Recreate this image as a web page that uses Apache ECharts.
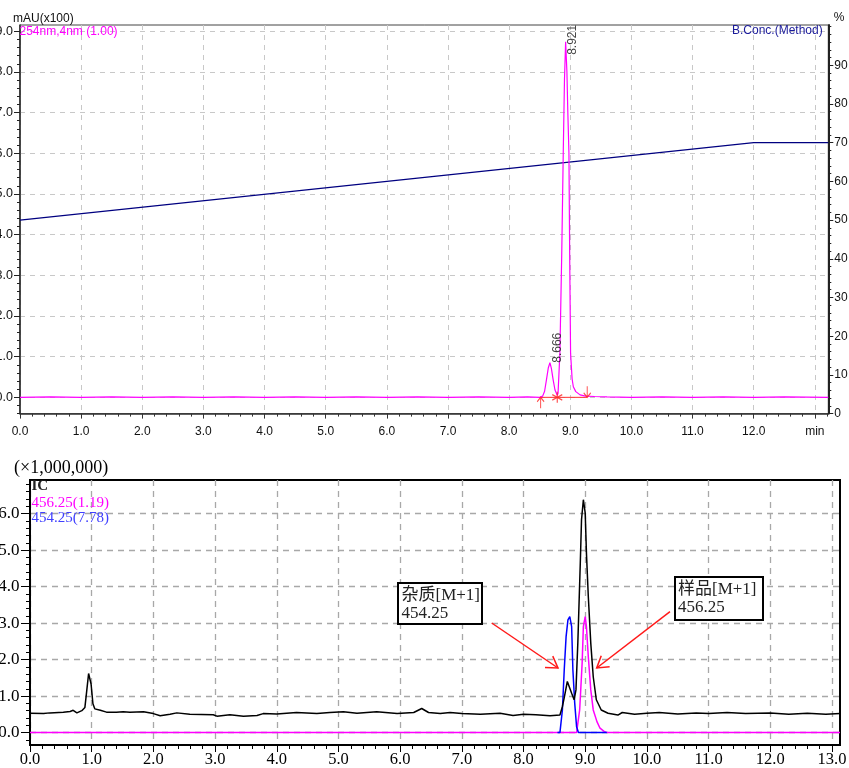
<!DOCTYPE html>
<html><head><meta charset="utf-8">
<script src="https://cdn.jsdelivr.net/npm/echarts@6/dist/echarts.min.js"></script>
<style>html,body{margin:0;padding:0;background:#fff}#c{width:849px;height:768px}</style>
</head><body><div id="c"></div>
<script>
// ---------------- DATA ----------------
// Top: UV 254 nm trace, time (min) vs mAU(x100)
const uvTrace = [
  [0,0.0],[0.5,0.01],[1.0,0.0],[1.5,0.01],[2.0,0.0],[2.5,0.01],[3.0,0.0],[3.5,0.01],[4.0,0.0],
  [4.5,0.01],[5.0,0.0],[5.5,0.01],[6.0,0.0],[6.5,0.01],[7.0,0.0],[7.5,0.01],[8.0,0.0],[8.3,0.01],
  [8.5,0.0],[8.548,0.03],[8.58,0.15],[8.61,0.43],[8.64,0.72],[8.667,0.85],[8.69,0.72],[8.72,0.43],
  [8.75,0.18],[8.787,0.05],[8.80,0.1],[8.83,1.08],[8.86,3.5],[8.885,6.0],[8.905,7.8],[8.924,8.74],
  [8.945,8.0],[8.96,7.0],[8.978,6.0],[8.99,3.5],[9.005,1.08],[9.03,0.45],[9.05,0.26],[9.09,0.14],
  [9.16,0.06],[9.25,0.03],[9.4,0.02],[9.6,0.01],[10.0,0.0],[10.5,0.01],[11.0,0.0],[11.5,0.01],
  [12.0,0.0],[12.5,0.01],[13.22,0.0]
];
// B.Conc.(Method) %, time vs %
const bConc = [[0,50],[12,70],[13.22,70]];
// peak retention times and apex heights
const peakTimes = [8.666, 8.921];
const peakHeights = [0.85, 8.74];
// integration markers: start, split, end (min)
const integStart = [8.515, 0];
const integSplit = [8.787, 0];
const integEnd = [9.277, 0];

// Bottom: TIC and extracted ions (x1,000,000)
const ticTrace = [
  [0,0.53],[0.22,0.52],[0.32,0.54],[0.54,0.56],[0.65,0.58],[0.70,0.61],[0.76,0.54],[0.84,0.60],
  [0.89,0.69],[0.92,1.15],[0.95,1.62],[0.97,1.65],[0.99,1.33],[1.02,0.79],[1.05,0.65],[1.14,0.61],
  [1.24,0.56],[1.40,0.56],[1.51,0.57],[1.62,0.56],[1.84,0.57],[2.00,0.52],[2.11,0.46],[2.27,0.50],
  [2.38,0.54],[2.59,0.50],[2.97,0.49],[3.03,0.45],[3.24,0.49],[3.46,0.45],[3.68,0.47],[3.78,0.52],
  [4.00,0.51],[4.32,0.55],[4.65,0.52],[4.86,0.55],[5.08,0.57],[5.30,0.53],[5.62,0.57],[5.95,0.52],
  [6.22,0.55],[6.35,0.66],[6.46,0.55],[6.65,0.52],[6.81,0.55],[7.00,0.52],[7.30,0.50],[7.62,0.53],
  [7.83,0.47],[8.00,0.50],[8.20,0.49],[8.43,0.46],[8.59,0.48],[8.63,0.71],[8.66,0.96],[8.71,1.40],
  [8.74,1.35],[8.78,1.08],[8.82,0.90],[8.85,1.17],[8.88,2.45],[8.92,4.64],[8.94,5.83],[8.97,6.38],
  [9.00,6.01],[9.02,4.91],[9.05,3.73],[9.09,2.45],[9.13,1.53],[9.18,0.90],[9.26,0.62],[9.37,0.53],
  [9.53,0.48],[9.60,0.55],[9.80,0.50],[10.0,0.53],[10.2,0.55],[10.5,0.51],[10.8,0.54],[11.0,0.52],
  [11.3,0.55],[11.6,0.52],[12.0,0.54],[12.3,0.50],[12.6,0.53],[12.9,0.50],[13.13,0.52]
];
const ion45625 = [
  [0,0],[8.86,0],[8.91,0.62],[8.95,1.9],[8.97,2.9],[9.0,3.18],[9.02,2.9],[9.05,2.08],[9.09,1.17],
  [9.13,0.62],[9.19,0.3],[9.24,0.12],[9.3,0.04],[9.35,0],[13.13,0]
];
const ion45425 = [
  [8.55,0],[8.59,0],[8.63,0.62],[8.66,1.72],[8.69,2.63],[8.72,3.09],[8.75,3.18],[8.78,2.9],
  [8.8,1.72],[8.83,0.8],[8.86,0.16],[8.89,0],[9.35,0]
];

// tick labels
const topXTicks = [0,1,2,3,4,5,6,7,8,9,10,11,12,13];
const topYTicks = [0,1,2,3,4,5,6,7,8,9];
const topRTicks = [0,10,20,30,40,50,60,70,80,90];
const botXTicks = [0,1,2,3,4,5,6,7,8,9,10,11,12,13];
const botYTicks = [0,1,2,3,4,5,6];

function steps(a, b, s) { const r = []; for (let v = a; v <= b + 1e-9; v += s) r.push(Math.round(v * 1000) / 1000); return r; }
const topXMinor = steps(0, 13.2, 0.2);
const topYMinor = steps(-0.4, 9.0, 0.2);
const topRMinor = steps(0, 100, 2);
const botXMinor = steps(0, 13.0, 0.2);
const botYMinor = steps(-0.2, 6.8, 0.2);

// ---------------- STYLE ----------------
const SANS = '"Liberation Sans", Arial, sans-serif';
const SERIF = '"Liberation Serif", "Times New Roman", "Noto Sans CJK SC", serif';
const topGrid = {left: 20, right: 20.7, top: 25, bottom: 354.4};
const botGrid = {left: 30, right: 9, top: 480, bottom: 23};

const chart = echarts.init(document.getElementById('c'), null, {renderer: 'canvas'});

function minorAxis(gi, pos, min, max, vals, len, color) {
  return {gridIndex: gi, type: 'value', position: pos, min, max,
    axisLine: {show: false, onZero: false}, splitLine: {show: false}, axisLabel: {show: false},
    axisTick: {show: true, customValues: vals, length: len, lineStyle: {color, width: 1}}};
}
const fmt1 = v => (+v).toFixed(1);

const upArrow = 'path://M0,0 L0,10 M-3.5,4 L0,0 L3.5,4';
const downArrow = 'path://M0,0 L0,10 M-3.5,6 L0,10 L3.5,6';
const asterisk = 'path://M0,-5 L0,5 M-4.3,-2.5 L4.3,2.5 M-4.3,2.5 L4.3,-2.5';

const option = {
  animation: false,
  backgroundColor: '#fff',
  grid: [
    Object.assign({show: true, borderColor: '#444', borderWidth: 1, backgroundColor: 'transparent', containLabel: false, outerBoundsMode: 'none'}, topGrid),
    Object.assign({show: true, borderColor: '#000', borderWidth: 2, backgroundColor: 'transparent', containLabel: false, outerBoundsMode: 'none'}, botGrid)
  ],
  xAxis: [
    {gridIndex: 0, type: 'value', position: 'bottom', min: 0, max: 13.22, splitNumber: 13,
     axisLine: {onZero: false, lineStyle: {color: '#333', width: 1.5}},
     axisTick: {customValues: topXTicks, length: 5, lineStyle: {color: '#333'}},
     axisLabel: {customValues: topXTicks, formatter: v => (+v === 13 ? 'min' : fmt1(v)), margin: 12,
                 fontFamily: SANS, fontSize: 12, color: '#111'},
     splitLine: {show: true, lineStyle: {type: [5, 5], color: '#c8c8c8', width: 1}}},
    minorAxis(0, 'bottom', 0, 13.22, topXMinor, 3, '#333'),
    {gridIndex: 1, type: 'value', position: 'bottom', min: 0, max: 13.13, splitNumber: 13,
     axisLine: {onZero: false, lineStyle: {color: '#000', width: 2}},
     axisTick: {customValues: botXTicks, length: 7, lineStyle: {color: '#000', width: 1}},
     axisLabel: {customValues: botXTicks, formatter: fmt1, margin: 6, fontFamily: SERIF, fontSize: 16.5, color: '#000'},
     splitLine: {show: true, lineStyle: {type: [6, 5], color: '#a8a8a8', width: 1.3}}},
    minorAxis(1, 'bottom', 0, 13.13, botXMinor, 4, '#000')
  ],
  yAxis: [
    {gridIndex: 0, type: 'value', position: 'left', min: -0.4, max: 9.154, splitNumber: 9,
     axisLine: {show: true, onZero: false, lineStyle: {color: '#222', width: 1.5}},
     axisTick: {show: true, customValues: topYTicks, length: 6, lineStyle: {color: '#222'}},
     axisLabel: {customValues: topYTicks, formatter: fmt1, margin: 7, fontFamily: SANS, fontSize: 12.5, color: '#111'},
     splitLine: {show: true, lineStyle: {type: [5, 5], color: '#c8c8c8', width: 1}}},
    minorAxis(0, 'left', -0.4, 9.154, topYMinor, 3, '#222'),
    {gridIndex: 0, type: 'value', position: 'right', min: 0, max: 100.4, splitNumber: 10,
     axisLine: {show: true, onZero: false, lineStyle: {color: '#222', width: 2}},
     axisTick: {show: true, customValues: topRTicks, length: 5, lineStyle: {color: '#222'}},
     axisLabel: {customValues: topRTicks, margin: 6, fontFamily: SANS, fontSize: 12, color: '#111'},
     splitLine: {show: false}},
    minorAxis(0, 'right', 0, 100.4, topRMinor, 3, '#222'),
    {gridIndex: 1, type: 'value', position: 'left', min: -0.34, max: 6.92, splitNumber: 7,
     axisLine: {show: true, onZero: false, lineStyle: {color: '#000', width: 2}},
     axisTick: {show: true, customValues: botYTicks, length: 9, lineStyle: {color: '#000'}},
     axisLabel: {customValues: botYTicks, formatter: fmt1, margin: 10.5, fontFamily: SERIF, fontSize: 17, color: '#000'},
     splitLine: {show: true, lineStyle: {type: [6, 5], color: '#a8a8a8', width: 1.3}}},
    minorAxis(1, 'left', -0.34, 6.92, botYMinor, 4, '#000')
  ],
  series: [
    {type: 'line', xAxisIndex: 0, yAxisIndex: 2, data: bConc, symbol: 'none',
     lineStyle: {color: '#000080', width: 1.2}, z: 2},
    {type: 'line', xAxisIndex: 0, yAxisIndex: 0, data: [integStart, integEnd], symbol: 'none',
     lineStyle: {color: '#ff3030', width: 1}, z: 3},
    {type: 'line', xAxisIndex: 0, yAxisIndex: 0, data: uvTrace, symbol: 'none',
     lineStyle: {color: '#ff00ff', width: 1.2}, z: 4},
    {type: 'scatter', xAxisIndex: 0, yAxisIndex: 0, z: 5,
     itemStyle: {color: 'transparent', borderColor: '#ff2020', borderWidth: 1.2},
     data: [
       {value: integStart, symbol: upArrow, symbolSize: [7, 11], symbolOffset: [0, 5.5]},
       {value: integSplit, symbol: asterisk, symbolSize: [10, 11], symbolOffset: [0, 0]},
       {value: integEnd, symbol: downArrow, symbolSize: [7, 11], symbolOffset: [0, -5.5]}
     ]},
    {type: 'scatter', xAxisIndex: 0, yAxisIndex: 0, z: 6, symbolSize: 0,
     label: {show: true, rotate: 90, align: 'left', verticalAlign: 'middle',
             fontFamily: SANS, fontSize: 12, color: '#111',
             formatter: p => p.value[0].toFixed(3)},
     data: [
       {value: [peakTimes[0], peakHeights[0]], label: {position: [7.5, 0]}},
       {value: [peakTimes[1], peakHeights[1]], label: {position: [7, 13]}}
     ]},
    {type: 'line', xAxisIndex: 2, yAxisIndex: 4, data: ion45625, symbol: 'none',
     lineStyle: {color: '#ff00ff', width: 1.5}, z: 3},
    {type: 'line', xAxisIndex: 2, yAxisIndex: 4, data: ion45425, symbol: 'none',
     lineStyle: {color: '#0000ff', width: 1.5}, z: 4},
    {type: 'line', xAxisIndex: 2, yAxisIndex: 4, data: ticTrace, symbol: 'none',
     lineStyle: {color: '#000', width: 1.5}, z: 5}
  ]
};

function arrow(x1, y1, x2, y2) {
  const ang = Math.atan2(y2 - y1, x2 - x1), L = 13, a = 32 * Math.PI / 180;
  const p1 = [x2 - L * Math.cos(ang - a), y2 - L * Math.sin(ang - a)];
  const p2 = [x2 - L * Math.cos(ang + a), y2 - L * Math.sin(ang + a)];
  const st = {stroke: '#ff1a1a', lineWidth: 1.5, fill: null};
  return [
    {type: 'polyline', shape: {points: [[x1, y1], [x2, y2]]}, style: st, z: 100},
    {type: 'polyline', shape: {points: [p1, [x2, y2], p2]}, style: st, z: 100}
  ];
}
function txt(x, y, text, font, fill, align) {
  return {type: 'text', x, y, z: 100, style: {text, font, fill, align: align || 'left', verticalAlign: 'middle'}};
}
option.graphic = [
  txt(13, 19, 'mAU(x100)', '12px ' + SANS, '#111'),
  txt(19.5, 31.5, '254nm,4nm (1.00)', '12px ' + SANS, '#ff00ff'),
  txt(822.7, 31, 'B.Conc.(Method)', '12px ' + SANS, '#1a1a9a', 'right'),
  txt(839, 18, '%', '12px ' + SANS, '#111', 'center'),
  txt(14, 468, '(×1,000,000)', '18px ' + SERIF, '#000'),
  txt(31.5, 486.5, 'IC', 'bold 15px ' + SERIF, '#222'),
  txt(31.5, 502.7, '456.25(1.19)', '15px ' + SERIF, '#ff00ff'),
  txt(31.5, 518.5, '454.25(7.78)', '15px ' + SERIF, '#4040ff'),
  {type: 'rect', z: 100, shape: {x: 398, y: 583, width: 84, height: 41}, style: {fill: '#fff', stroke: '#000', lineWidth: 2}},
  {type: 'text', z: 101, x: 401.5, y: 587, style: {text: '杂质[M+1]\n454.25', font: '17px ' + SERIF, fill: '#222', lineHeight: 17.5, align: 'left', verticalAlign: 'top'}},
  {type: 'rect', z: 100, shape: {x: 675, y: 577, width: 88, height: 43}, style: {fill: '#fff', stroke: '#000', lineWidth: 2}},
  {type: 'text', z: 101, x: 678, y: 581, style: {text: '样品[M+1]\n456.25', font: '17px ' + SERIF, fill: '#222', lineHeight: 17.5, align: 'left', verticalAlign: 'top'}}
].concat(arrow(491.7, 623, 558, 668), arrow(670, 611.7, 596.7, 668));

chart.setOption(option);
</script>
</body></html>
